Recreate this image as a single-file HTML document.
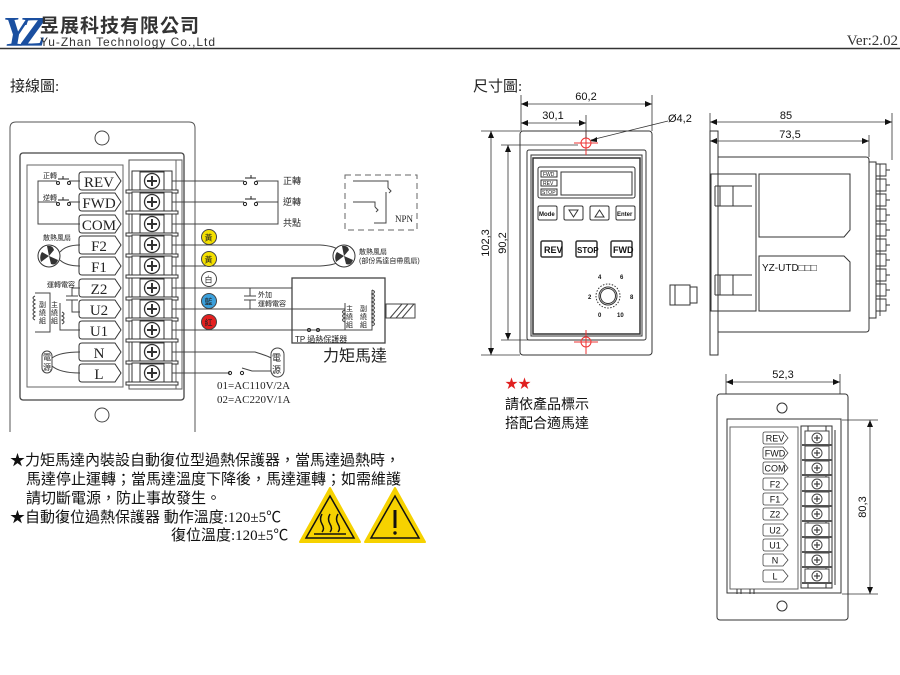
<!DOCTYPE html>
<html><head><meta charset="utf-8"><style>
html,body{margin:0;padding:0;background:#fff}
svg{display:block}
.s{font-family:"Liberation Serif","Noto Serif CJK SC",serif}
.a{font-family:"Liberation Sans","Noto Sans CJK TC",sans-serif}
.c{font-family:"Liberation Serif","Noto Sans CJK TC",sans-serif}
</style></head><body>
<svg width="900" height="675" viewBox="0 0 900 675" xmlns="http://www.w3.org/2000/svg" fill="none" stroke="#222" stroke-width="1">
<defs>
<g id="tb">
 <rect x="-20" y="-10" width="40" height="20" fill="#fff" stroke="#333"/>
 <rect x="-26" y="9" width="52" height="3" fill="#fff" stroke="#333"/>
 <rect x="-12" y="-9" width="24" height="18" fill="#fff" stroke="#333"/>
 <circle r="7.5" fill="#fff" stroke="#333" stroke-width="1.3"/>
 <path d="M-5,0H5M0,-5V5" stroke="#333" stroke-width="2"/>
</g>
<path id="lb" d="M82,-9H115L121,0L115,9H82Q79,9 79,6V-6Q79,-9 82,-9Z" fill="#fff" stroke="#333"/>
<g id="tb2">
 <rect x="-12" y="-7" width="24" height="14" fill="#fff" stroke="#444"/>
 <circle r="5" fill="#fff" stroke="#444"/>
 <path d="M-3,0H3M0,-3V3" stroke="#444" stroke-width="1.3"/>
 <path d="M-15,7H15" stroke="#555" stroke-width="2"/>
</g>
<path id="lb2" d="M765,-6H783L788,0L783,6H765Q763,6 763,4V-4Q763,-6 765,-6Z" fill="#fff" stroke="#444" stroke-width=".8"/>
<g id="fan"><circle r="11" fill="#fff" stroke="#333"/><path d="M0,0L-2,-10Q4,-11 5,-6Z M0,0L9,4Q7,10 2,8Z M0,0L-8,6Q-10,0 -7,-4Z" fill="#333" stroke="none"/></g>
</defs>

<!-- header -->
<text x="3" y="46" class="s" font-size="42" font-style="italic" font-weight="bold" fill="#1a4fa0" stroke="none" letter-spacing="-8">YZ</text>
<text x="40" y="32" class="a" font-size="19" font-weight="bold" fill="#333" stroke="none" letter-spacing="1">昱展科技有限公司</text>
<text x="40" y="46" class="a" font-size="12" fill="#333" stroke="none" textLength="175">Yu-Zhan Technology Co.,Ltd</text>
<line x1="0" y1="48.5" x2="900" y2="48.5" stroke="#333" stroke-width="1.5"/>
<text x="898" y="45" class="s" font-size="15" fill="#333" stroke="none" text-anchor="end">Ver:2.02</text>
<text x="10" y="91" class="c" font-size="15" fill="#222" stroke="none">接線圖:</text>
<text x="473" y="91" class="c" font-size="15" fill="#222" stroke="none">尺寸圖:</text>

<!-- wiring panel -->
<path d="M10,432V128Q10,122 16,122H189Q195,122 195,128V432" stroke="#555"/>
<circle cx="102" cy="138" r="7" stroke="#444"/>
<circle cx="102" cy="415" r="7" stroke="#444"/>
<rect x="20" y="153" width="164" height="247" rx="3" stroke="#444" stroke-width="1.3"/>
<rect x="27" y="165" width="96" height="222" stroke="#666"/>
<rect x="129" y="160" width="53" height="229" stroke="#555"/>
<path d="M176,160V389 M182,160V389" stroke="#666"/>
<g>
<use href="#tb" x="152" y="181"/><use href="#tb" x="152" y="202"/><use href="#tb" x="152" y="224"/><use href="#tb" x="152" y="245"/><use href="#tb" x="152" y="266"/><use href="#tb" x="152" y="288"/><use href="#tb" x="152" y="309"/><use href="#tb" x="152" y="330"/><use href="#tb" x="152" y="352"/><use href="#tb" x="152" y="373"/>
</g>
<g class="s" font-size="15" fill="#222">
<use href="#lb" y="181"/><use href="#lb" y="202"/><use href="#lb" y="224"/><use href="#lb" y="245"/><use href="#lb" y="266"/><use href="#lb" y="288"/><use href="#lb" y="309"/><use href="#lb" y="330"/><use href="#lb" y="352"/><use href="#lb" y="373"/>
<g stroke="none" text-anchor="middle">
<text x="99" y="187">REV</text><text x="99" y="208">FWD</text><text x="99" y="230">COM</text><text x="99" y="251">F2</text><text x="99" y="272">F1</text><text x="99" y="294">Z2</text><text x="99" y="315">U2</text><text x="99" y="336">U1</text><text x="99" y="358">N</text><text x="99" y="379">L</text>
</g></g>
<!-- internal left wiring -->
<path d="M80,181H69M57,181H38V224H80M80,202H69M57,202H38" stroke="#444"/>
<circle cx="58" cy="183" r="1.5"/><circle cx="69" cy="183" r="1.5"/><path d="M58,179H69M63,179V176" />
<circle cx="58" cy="204" r="1.5"/><circle cx="69" cy="204" r="1.5"/><path d="M58,200H69M63,200V197"/>
<g class="a" font-size="7" fill="#222" stroke="none"><text x="43" y="178">正轉</text><text x="43" y="200">逆轉</text><text x="43" y="240">散熱風扇</text><text x="47" y="287">運轉電容</text></g>
<use href="#fan" x="49" y="256"/>
<path d="M60,252Q66,245 80,245M60,260Q66,266 80,266" stroke="#444"/>
<path d="M80,288H72V296M66,296H78M66,300H78M72,300V312H80M60,303V330H80M35,293H50V332H35" stroke="#444"/>
<path d="M35,296q-4,2 0,4q-4,2 0,4q-4,2 0,4q-4,2 0,4q-4,2 0,4q-4,2 0,4" stroke="#444"/>
<path d="M62,312q4,2 0,4q4,2 0,4q4,2 0,4" stroke="#444"/>
<g class="a" font-size="7" fill="#222" stroke="none"><text x="39" y="307">副</text><text x="39" y="315">繞</text><text x="39" y="323">組</text><text x="51" y="307">主</text><text x="51" y="315">繞</text><text x="51" y="323">組</text></g>
<rect x="42" y="351" width="10" height="22" rx="5" fill="#fff" stroke="#444"/>
<text x="43" y="360" class="a" font-size="8" fill="#222" stroke="none">電</text><text x="43" y="370" class="a" font-size="8" fill="#222" stroke="none">源</text>
<path d="M52,358Q60,352 80,352M52,366Q60,373 80,373" stroke="#444"/>

<!-- external wires -->
<path d="M172,181H244M256,181H278V224H172M172,202H244M256,202H278M172,245H320Q335,246 338,250M172,266H320Q335,265 338,262M172,288H292M172,309H345V320M172,330H292M172,352H255Q268,356 271,358M172,373H230M242,368L252,371H271" stroke="#444"/>
<circle cx="245" cy="183" r="1.6"/><circle cx="256" cy="183" r="1.6"/><path d="M245,178H256M251,178V175"/>
<circle cx="245" cy="204" r="1.6"/><circle cx="256" cy="204" r="1.6"/><path d="M245,199H256M251,199V196"/>
<circle cx="230" cy="373" r="1.6"/><circle cx="242" cy="373" r="1.6"/>
<g class="a" font-size="9" fill="#222" stroke="none"><text x="283" y="184">正轉</text><text x="283" y="205">逆轉</text><text x="283" y="226">共點</text></g>
<g class="a" font-size="8" fill="#222" stroke="none">
<circle cx="209" cy="237" r="7.5" fill="#f4e000" stroke="#444"/><text x="204.5" y="240.5">黃</text>
<circle cx="209" cy="259" r="7.5" fill="#f4e000" stroke="#444"/><text x="204.5" y="262.5">黃</text>
<circle cx="209" cy="279" r="7.5" fill="#fff" stroke="#444"/><text x="204.5" y="282.5">白</text>
<circle cx="209" cy="301" r="7.5" fill="#3ba0dc" stroke="#444"/><text x="204.5" y="304.5">藍</text>
<circle cx="209" cy="322" r="7.5" fill="#e52020" stroke="#444"/><text x="204.5" y="325.5">紅</text>
</g>
<path d="M250,288V296M244,296H256M244,300H256M250,300V309" stroke="#444"/>
<text x="258" y="297" class="a" font-size="7" fill="#222" stroke="none">外加</text>
<text x="258" y="306" class="a" font-size="7" fill="#222" stroke="none">運轉電容</text>
<use href="#fan" x="344" y="256"/>
<text x="359" y="254" class="a" font-size="7" fill="#222" stroke="none">散熱風扇</text>
<text x="359" y="263" class="a" font-size="7" fill="#222" stroke="none">(部份馬達自帶風扇)</text>
<!-- motor -->
<rect x="292" y="278" width="93" height="65" stroke="#444" stroke-width="1.3"/>
<path d="M345,320V330H292M372,290V330H345M345,309V303" stroke="#444"/>
<path d="M372,290q5,2 0,4q5,2 0,4q5,2 0,4q5,2 0,4q5,2 0,4q5,2 0,4q5,2 0,4q5,2 0,4q5,2 0,4" stroke="#444"/>
<path d="M345,310q-5,2 0,4q-5,2 0,4q-5,2 0,4" stroke="#444"/>
<g class="a" font-size="7" fill="#222" stroke="none"><text x="346" y="311">主</text><text x="346" y="319">繞</text><text x="346" y="327">組</text><text x="360" y="311">副</text><text x="360" y="319">繞</text><text x="360" y="327">組</text></g>
<circle cx="309" cy="330" r="1.5"/><circle cx="318" cy="330" r="1.5"/>
<text x="295" y="342" class="a" font-size="8" fill="#222" stroke="none">TP 過熱保護器</text>
<rect x="386" y="304" width="29" height="14" stroke="#444"/>
<path d="M390,318L402,304M396,318L408,304M402,318L414,304" stroke="#444"/>
<text x="323" y="361" class="a" font-size="16" fill="#222" stroke="none">力矩馬達</text>
<rect x="271" y="348" width="13" height="29" rx="6.5" fill="#fff" stroke="#444"/>
<text x="272" y="361" class="a" font-size="9" fill="#222" stroke="none">電</text><text x="272" y="373" class="a" font-size="9" fill="#222" stroke="none">源</text>
<text x="217" y="389" class="s" font-size="11" fill="#222" stroke="none">01=AC110V/2A</text>
<text x="217" y="403" class="s" font-size="11" fill="#222" stroke="none">02=AC220V/1A</text>
<!-- NPN -->
<rect x="345" y="175" width="72" height="55" stroke="#666" stroke-dasharray="6,4"/>
<path d="M353,181H388V188M353,202H375V207M374,223H386V192" stroke="#444"/>
<path d="M388,188l3,3l-2,2M375,207l3,3l-2,2" stroke="#444"/>
<text x="395" y="222" class="s" font-size="9" fill="#222" stroke="none">NPN</text>

<!-- notes -->
<g class="c" font-size="15" fill="#111" stroke="none">
<text x="10" y="465">★力矩馬達內裝設自動復位型過熱保護器，當馬達過熱時，</text>
<text x="26" y="484">馬達停止運轉；當馬達溫度下降後，馬達運轉；如需維護</text>
<text x="26" y="503">請切斷電源，防止事故發生。</text>
<text x="10" y="522">★自動復位過熱保護器 動作溫度:120±5℃</text>
<text x="171" y="540">復位溫度:120±5℃</text>
</g>
<path d="M330,488L360,542H300Z" fill="#f6d200" stroke="#f6d200" stroke-width="2" stroke-linejoin="round"/>
<path d="M330,496L354,538H306Z" fill="none" stroke="#111" stroke-width="1.5"/>
<path d="M322,514q-3,5 0,10t0,8M330,514q-3,5 0,10t0,8M338,514q-3,5 0,10t0,8M314,534H346" stroke="#111" stroke-width="1.5"/>
<path d="M395,488L425,542H365Z" fill="#f6d200" stroke="#f6d200" stroke-width="2" stroke-linejoin="round"/>
<path d="M395,496L419,538H371Z" fill="none" stroke="#111" stroke-width="1.5"/>
<path d="M395,510V528" stroke="#111" stroke-width="3"/><circle cx="395" cy="533" r="1.7" fill="#111" stroke="none"/>

<!-- front view -->
<g stroke="#333">
<rect x="520" y="131" width="132" height="224" rx="3"/>
<rect x="527" y="150" width="119" height="190" rx="2"/>
<rect x="531" y="155" width="111" height="181"/>
<rect x="533" y="158" width="107" height="176" stroke-width="1.5"/>
<rect x="538" y="167" width="97" height="31" rx="2"/>
<rect x="541" y="171" width="16" height="6"/><rect x="541" y="180" width="16" height="6"/><rect x="541" y="189" width="16" height="6"/>
<rect x="561" y="172" width="71" height="23"/>
<rect x="538" y="206" width="19" height="14" rx="1.5"/><rect x="564" y="206" width="19" height="14" rx="1.5"/><rect x="590" y="206" width="19" height="14" rx="1.5"/><rect x="616" y="206" width="19" height="14" rx="1.5"/>
<path d="M569,210h9l-4.5,7z M595,217h9l-4.5,-7z"/>
<rect x="541" y="241" width="21" height="16" rx="1.5" stroke-width="1.5"/><rect x="576" y="241" width="21" height="16" rx="1.5" stroke-width="1.5"/><rect x="611" y="241" width="21" height="16" rx="1.5" stroke-width="1.5"/>
<circle cx="608" cy="296" r="12" stroke-dasharray="1.5,1.5"/><circle cx="608" cy="296" r="9"/><circle cx="608" cy="296" r="7.5"/>
</g>
<g class="a" fill="#111" stroke="none">
<text x="543" y="176" font-size="5">FWD</text><text x="543" y="185" font-size="5">REV</text><text x="542" y="194" font-size="5">STOP</text>
<text x="539" y="216" font-size="6" font-weight="bold">Mode</text><text x="617" y="216" font-size="6" font-weight="bold">Enter</text>
<text x="544" y="253" font-size="9" font-weight="bold">REV</text><text x="577" y="253" font-size="8" font-weight="bold">STOP</text><text x="613" y="253" font-size="9" font-weight="bold">FWD</text>
<g font-size="6" font-weight="bold"><text x="598" y="279">4</text><text x="620" y="279">6</text><text x="588" y="299">2</text><text x="630" y="299">8</text><text x="598" y="317">0</text><text x="617" y="317">10</text></g>
</g>
<g stroke="#e33" stroke-width="1"><path d="M574,143H598M586,131V155M574,342H598M586,330V354"/><circle cx="586" cy="143" r="5"/><circle cx="586" cy="342" r="5"/></g>
<!-- front dims -->
<g stroke="#333" stroke-width=".8">
<path d="M521,95V131M652,95V131M586,115V138M521,104H652M521,123H586"/>
<path d="M481,131H520M501,145H578M481,355H520M501,340H578M491,131V355M508,145V340"/>
<path d="M591,140L668,121"/>
</g>
<g fill="#111" stroke="none">
<path d="M521,104l7,-3v6z M652,104l-7,-3v6z M521,123l7,-3v6z M586,123l-7,-3v6z"/>
<path d="M491,131l-3,7h6z M491,355l-3,-7h6z M508,145l-3,7h6z M508,340l-3,-7h6z M590,141l7,-4v5z"/>
</g>
<g class="a" font-size="11" fill="#111" stroke="none">
<text x="586" y="100" text-anchor="middle">60,2</text><text x="553" y="119" text-anchor="middle">30,1</text>
<text x="668" y="122">Ø4,2</text>
<text transform="translate(489,243) rotate(-90)" text-anchor="middle">102,3</text>
<text transform="translate(506,243) rotate(-90)" text-anchor="middle">90,2</text>
</g>
<!-- side view -->
<g stroke="#333">
<rect x="710" y="131" width="8" height="224"/>
<path d="M718,157H866Q869,157 869,160V329Q869,332 866,332H718"/>
<path d="M869,162H876V318H869"/>
<rect x="711" y="174" width="45" height="137"/>
<path d="M759,174H850V230L844,237H759Z M759,256H844L850,262V311H759Z"/>
<path d="M715,186H752M715,206H752M715,186V206M720,186V206M733,186V206 M715,275H752M715,295H752M715,275V295M720,275V295M733,275V295"/>
<rect x="670" y="285" width="20" height="20"/><path d="M690,287H697V303H690M675,285V305"/>
</g>
<g stroke="#333" stroke-width=".9">
<path d="M876,164h10v12h-10M876,179h10v12h-10M876,194h10v12h-10M876,209h10v12h-10M876,224h10v12h-10M876,239h10v12h-10M876,254h10v12h-10M876,269h10v12h-10M876,284h10v12h-10M876,299h10v12h-10"/>
<path d="M880,164V316M886,170h4M886,185h4M886,200h4M886,215h4M886,230h4M886,245h4M886,260h4M886,275h4M886,290h4M886,305h4"/>
</g>
<text x="762" y="271" class="a" font-size="10" fill="#111" stroke="none">YZ-UTD□□□</text>
<g stroke="#333" stroke-width=".8"><path d="M710,113V131M892,113V160M869,135V157M710,122H892M710,141H869"/></g>
<g fill="#111" stroke="none"><path d="M710,122l7,-3v6z M892,122l-7,-3v6z M710,141l7,-3v6z M869,141l-7,-3v6z"/></g>
<text x="786" y="119" class="a" font-size="11" fill="#111" stroke="none" text-anchor="middle">85</text>
<text x="790" y="138" class="a" font-size="11" fill="#111" stroke="none" text-anchor="middle">73,5</text>
<!-- red stars note -->
<text x="505" y="388" class="a" font-size="13" fill="#e02020" stroke="none">★★</text>
<text x="505" y="409" class="c" font-size="14" fill="#111" stroke="none">請依產品標示</text>
<text x="505" y="428" class="c" font-size="14" fill="#111" stroke="none">搭配合適馬達</text>
<!-- back view -->
<g stroke="#333">
<rect x="717" y="394" width="131" height="226" rx="3"/>
<circle cx="782" cy="408" r="5"/><circle cx="782" cy="606" r="5"/>
<rect x="727" y="419" width="114" height="174"/>
<rect x="730" y="427" width="68" height="162" stroke="#666"/>
<rect x="801" y="426" width="31" height="162"/>
<path d="M808,426V588M826,426V588M835,430V585"/>
<path d="M737,589v5M741,589v5M750,589v5M754,589v5"/>
</g>
<use href="#tb2" x="817" y="438"/><use href="#tb2" x="817" y="453"/><use href="#tb2" x="817" y="468"/><use href="#tb2" x="817" y="484"/><use href="#tb2" x="817" y="499"/><use href="#tb2" x="817" y="514"/><use href="#tb2" x="817" y="530"/><use href="#tb2" x="817" y="545"/><use href="#tb2" x="817" y="560"/><use href="#tb2" x="817" y="576"/>
<use href="#lb2" y="438"/><use href="#lb2" y="453"/><use href="#lb2" y="468"/><use href="#lb2" y="484"/><use href="#lb2" y="499"/><use href="#lb2" y="514"/><use href="#lb2" y="530"/><use href="#lb2" y="545"/><use href="#lb2" y="560"/><use href="#lb2" y="576"/>
<g class="a" font-size="9" fill="#111" stroke="none" text-anchor="middle">
<text x="775" y="441.5">REV</text><text x="775" y="456.5">FWD</text><text x="775" y="471.5">COM</text><text x="775" y="487.5">F2</text><text x="775" y="502.5">F1</text><text x="775" y="517.5">Z2</text><text x="775" y="533.5">U2</text><text x="775" y="548.5">U1</text><text x="775" y="563.5">N</text><text x="775" y="579.5">L</text>
</g>
<g stroke="#333" stroke-width=".8"><path d="M726,374V394M840,374V394M726,382H840M842,420H878M842,594H878M870,420V594"/></g>
<g fill="#111" stroke="none"><path d="M726,382l7,-3v6z M840,382l-7,-3v6z M870,420l-3,7h6z M870,594l-3,-7h6z"/></g>
<text x="783" y="378" class="a" font-size="11" fill="#111" stroke="none" text-anchor="middle">52,3</text>
<text transform="translate(866,507) rotate(-90)" class="a" font-size="11" fill="#111" stroke="none" text-anchor="middle">80,3</text>
</svg>
</body></html>
